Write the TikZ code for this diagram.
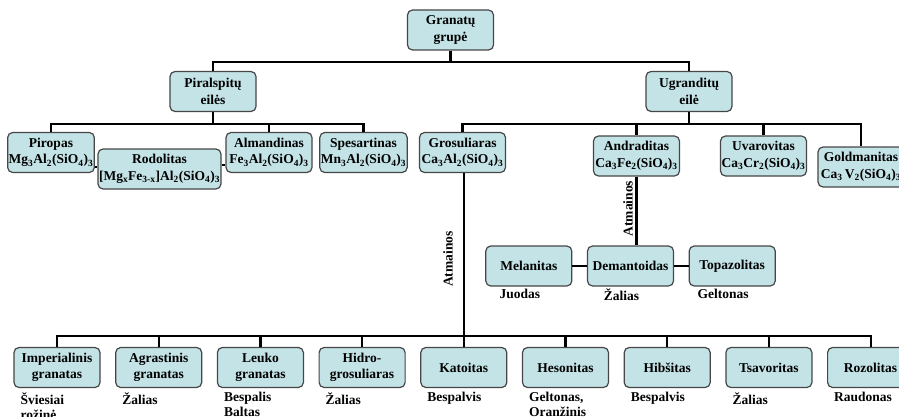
\documentclass[tikz,border=0pt]{standalone}
\usepackage{fontspec}
\setmainfont{Liberation Serif}
\usetikzlibrary{chains,
                positioning}

\definecolor{boxfill}{RGB}{195,227,230}
\newcommand\sub[1]{\textsubscript{#1}}

\begin{document}
\begin{tikzpicture}[x=1pt, y=-1pt,
node distance = 14.5pt,
  start chain = B going right,
   box/.style = {rectangle, rounded corners=5pt, draw=gray!55!black,
                 line width=1.2pt, fill=boxfill,
                 minimum width=86pt, minimum height=40pt,
                 inner sep=1pt, align=center,
                 font=\bfseries\fontsize{13.5}{16.5}\selectfont},
  note/.style = {inner sep=0pt, align=left, anchor=north west,
                 font=\bfseries\fontsize{13.5}{15}\selectfont},
  vlab/.style = {rotate=90, inner sep=0pt,
                 font=\bfseries\fontsize{13.5}{15}\selectfont},
  link/.style = {line width=2.2pt},
                        ]
\useasboundingbox (0,0) rectangle (899,417);
% top levels
\node[box] (G) at (450.5,30)  {Granatų\\grupė};
\node[box] (P) at (213,91.5)  {Piralspitų\\eilės};
\node[box] (U) at (689,91.5)  {Ugranditų\\eilė};
% species
\node[box] (Pir) at (51,152.5)    {Piropas\\Mg\sub{3}Al\sub{2}(SiO\sub{4})\sub{3}};
\node[box, minimum width=119pt]
           (Rod) at (159.5,169)   {Rodolitas\\{}[Mg\sub{x}Fe\sub{3-x}]Al\sub{2}(SiO\sub{4})\sub{3}};
\node[box] (Alm) at (269,152.5)   {Almandinas\\Fe\sub{3}Al\sub{2}(SiO\sub{4})\sub{3}};
\node[box] (Spe) at (363.5,152.5) {Spesartinas\\Mn\sub{3}Al\sub{2}(SiO\sub{4})\sub{3}};
\node[box] (Gro) at (462.5,152.5) {Grosuliaras\\Ca\sub{3}Al\sub{2}(SiO\sub{4})\sub{3}};
\node[box] (And) at (636.5,156)   {Andraditas\\Ca\sub{3}Fe\sub{2}(SiO\sub{4})\sub{3}};
\node[box] (Uva) at (763.5,156)   {Uvarovitas\\Ca\sub{3}Cr\sub{2}(SiO\sub{4})\sub{3}};
\node[box] (Gol) at (861,167)     {Goldmanitas\\Ca\sub{3}\,V\sub{2}(SiO\sub{4})\sub{3}};
% andradite varieties
\node[box] (Dem) at (630.5,266) {Demantoidas};
\node[box, left=of Dem]  (Mel) {Melanitas};
\node[box, right=of Dem] (Top) {Topazolitas};
\node[note, anchor=north] (c-mel) at ([xshift=-9pt, yshift=-2pt]Mel.south) {Juodas};
\node[note, anchor=north] (c-dem) at ([xshift=-9pt, yshift=-2pt]Dem.south) {Žalias};
\node[note, anchor=north] (c-top) at ([xshift=-9pt, yshift=-2pt]Top.south) {Geltonas};
% grossular varieties
    \begin{scope}[every node/.append style={box, on chain}]
\node at (57,367.5) {Imperialinis\\granatas};
\node {Agrastinis\\granatas};
\node {Leuko\\granatas};
\node {Hidro-\\grosuliaras};
\node {Katoitas};
\node {Hesonitas};
\node {Hibšitas};
\node {Tsavoritas};
\node {Rozolitas};
    \end{scope}
\foreach \t [count=\j] in {{Šviesiai\\rožinė}, Žalias, {Bespalis\\Baltas},
                          Žalias, Bespalvis, {Geltonas,\\Oranžinis},
                          Bespalvis, Žalias, Raudonas}
    \node[note] (c-\j) at ([xshift=7pt, yshift=-4pt]B-\j.south west) {\t};
\node[vlab] (a-gro) at (448,259)   {Atmainos};
\node[vlab] (a-and) at (628,208.5) {Atmainos};
% links
\draw[link] (G.south) -- ++(0,11.5) -| (P.north)
            (G.south) -- ++(0,11.5) -| (U.north);
\foreach \n in {Pir,Alm,Spe}
    \draw[link] (P.south) -- ++(0,12) -| (\n.north);
\foreach \n in {Gro,And,Uva,Gol}
    \draw[link] (U.south) -- ++(0,12) -| (\n.north);
\draw[link] ([yshift=2pt]Rod.west) -- ([yshift=2pt]Rod.west -| Pir.east)
            ([yshift=4pt]Rod.east) -- ([yshift=4pt]Rod.east -| Alm.west);
\foreach \j in {1,...,9}
    \draw[link] (B-5 |- Gro.south) |- ([yshift=11pt]B-\j.north) -- (B-\j.north);
\draw[link] (And.south) -- (And.south |- Dem.north);
\draw[link] (Mel) -- (Dem) -- (Top);
    \end{tikzpicture}
\end{document}
